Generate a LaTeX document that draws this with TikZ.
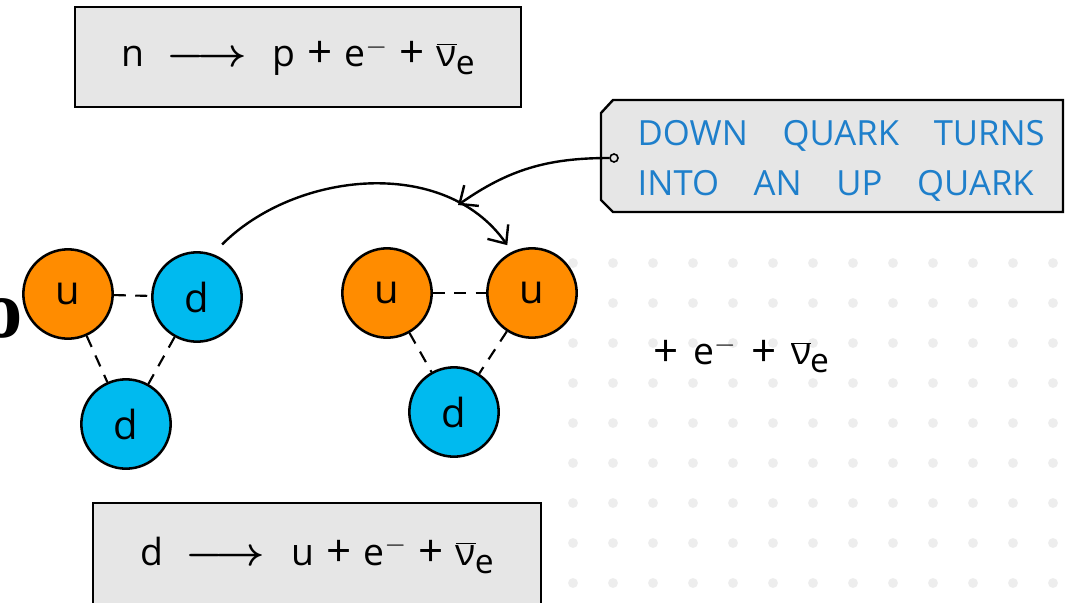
\documentclass[tikz,border=0pt]{standalone}
\usepackage{fontspec}
\setmainfont{Open Sans}
\newfontfamily\notefont{Open Sans}
\newfontfamily\edgefont{Liberation Serif}
\usetikzlibrary{arrows.meta}
\definecolor{qorange}{HTML}{FF8C00}
\definecolor{qblue}{HTML}{00BAEF}
\definecolor{boxgray}{HTML}{E6E6E6}
\definecolor{noteblue}{HTML}{1E7FCB}
\definecolor{dotgray}{HTML}{EDEDED}
\newcommand{\antinue}{$\overline{\hbox{ν}}$\kern-1pt\raisebox{-0.4ex}{\scalebox{0.9}{e}}}
\newcommand{\plus}{\hspace{0.32em}\raisebox{-1pt}{\fontsize{33}{33}\selectfont+}\hspace{0.32em}}
\newcommand{\yields}{\hspace{0.6em}\scalebox{1.3}[1.2]{\boldmath$\longrightarrow$}\hspace{0.7em}}
\tikzset{
  quark/.style={draw, circle, line width=1.9pt, minimum size=67pt, inner sep=0pt,
    font=\fontsize{30}{34}\selectfont},
  up/.style={quark, fill=qorange},
  down/.style={quark, fill=qblue},
  bond/.style={line width=1.6pt, dash pattern=on 9pt off 7pt},
  eqbox/.style={draw, fill=boxgray, line width=1.8pt, inner sep=0pt,
    font=\fontsize{28}{32}\selectfont},
  flow/.style={line width=1.8pt, -{Straight Barb[length=11pt, width=19pt, line width=1.8pt]}},
}
\begin{document}
\begin{tikzpicture}[x=0.75pt, y=0.75pt]
    \fill[white] (0,0) rectangle (1071,-603);
    \useasboundingbox (0,0) rectangle (1071,-603);
    % dot grid behind
    \foreach \i in {573,613,...,1053}
        \foreach \j in {263,303,...,583}
            \fill[dotgray] (\i,-\j) circle (3.7pt);
    % equations
    \node[eqbox, minimum width=334.5pt, minimum height=75pt] (top) at (298,-57)
        {n\yields p\plus e$^{-}$\plus\antinue};
    \node[eqbox, minimum width=336pt, minimum height=78pt] (bottom) at (317,-555)
        {d\yields u\plus e$^{-}$\plus\antinue};
    \node[font=\fontsize{28}{32}\selectfont] (rest) at (741,-355)
        {\raisebox{-1pt}{\fontsize{33}{33}\selectfont+}\hspace{0.4em}e$^{-}$\hspace{0.4em}\raisebox{-1pt}{\fontsize{33}{33}\selectfont+}\hspace{0.4em}\antinue};
    \node[font=\edgefont\bfseries\fontsize{62}{62}\selectfont] (cut) at (2,-318) {o};
    % neutron
    \node[up] (u1) at (68,-294) {u};
    \node[down] (d1) at (197,-297) {d};
    \node[down] (d2) at (126,-424) {d};
    \draw[bond] (u1) -- (d1);
    \draw[bond] (u1) -- (d2);
    \draw[bond] (d1) -- (d2);
    % proton
    \node[up] (u2) at (387,-293) {u};
    \node[up] (u3) at (532,-293) {u};
    \node[down] (d3) at (454,-412) {d};
    \draw[bond] (u2) -- (u3);
    \draw[bond] (u2) -- (d3);
    \draw[bond] (u3) -- (d3);
    \draw[flow, shorten <=10pt, shorten >=6pt] (d1.70) to[out=45, in=125] (u3.116);
    % note
    \draw[fill=boxgray, line width=1.8pt] (601,-113) -- (613,-100) -- (1063,-100)
        -- (1063,-212) -- (613,-212) -- (601,-200) -- cycle;
    \node[anchor=west, align=left, text=noteblue, font=\notefont\fontsize{26}{37}\selectfont]
        (note) at (633,-161) {DOWN\quad QUARK\quad TURNS\\INTO\quad AN\quad UP\quad QUARK};
    \node[draw, circle, fill=boxgray, inner sep=0pt, minimum size=6pt, line width=1.2pt] (pin) at (614,-158) {};
    \coordinate (tip) at (458,-205);
    \draw[flow] (pin) to[out=180, in=35] (tip);
\end{tikzpicture}
\end{document}
